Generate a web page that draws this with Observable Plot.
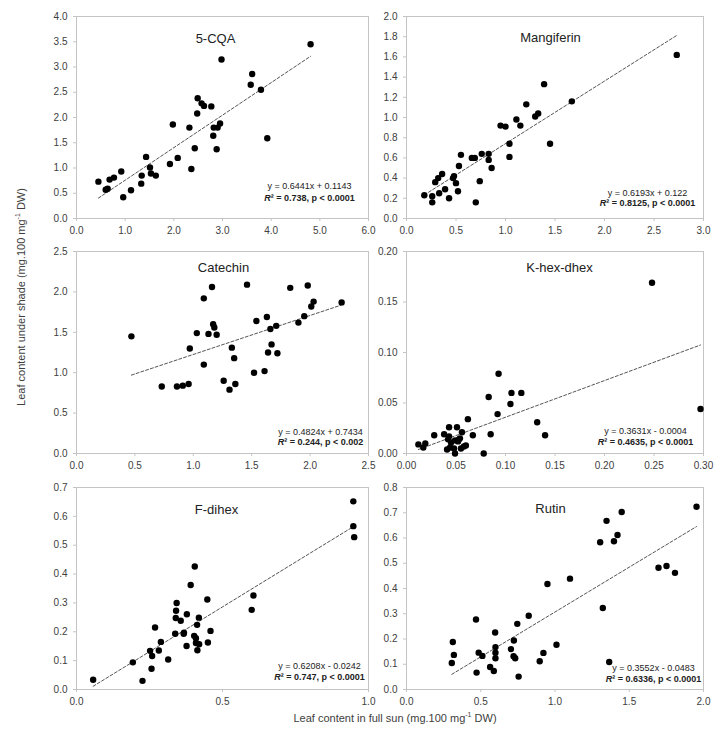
<!DOCTYPE html>
<html><head><meta charset="utf-8">
<script src="https://cdn.jsdelivr.net/npm/d3@7"></script>
<script src="https://cdn.jsdelivr.net/npm/@observablehq/plot@0.6"></script>
<style>
body{margin:0;background:#fff;font-family:"Liberation Sans",Arial,sans-serif;}
#chart{position:relative;width:724px;height:730px;}
.panel{position:absolute;}
.panel svg{overflow:visible;background:transparent;max-width:none;}
.ylab{position:absolute;left:21px;top:297px;transform:translate(-50%,-50%) rotate(-90deg);white-space:nowrap;font-size:11px;color:#404040;}
.xlab{position:absolute;left:395px;top:718px;transform:translate(-50%,-50%);white-space:nowrap;font-size:11px;color:#404040;}
sup{font-size:7px;line-height:0;}
</style></head><body><div id="chart"></div>
<script>
// ---- Data ----
const cqaSun   = [0.45,0.60,0.64,0.68,0.77,0.92,0.96,1.12,1.33,1.34,1.43,1.51,1.53,1.63,1.92,1.98,2.08,2.32,2.36,2.43,2.48,2.49,2.57,2.62,2.77,2.81,2.82,2.88,2.90,2.95,2.98,3.58,3.61,3.79,3.92,4.81];
const cqaShade = [0.73,0.57,0.59,0.77,0.81,0.93,0.42,0.56,0.69,0.85,1.22,1.01,0.89,0.85,1.08,1.86,1.20,1.80,0.98,1.39,2.08,2.38,2.28,2.23,2.22,1.64,1.80,1.37,1.80,1.88,3.15,2.65,2.86,2.55,1.59,3.45];

const mangSun   = [0.18,0.26,0.26,0.29,0.32,0.33,0.36,0.39,0.43,0.47,0.48,0.50,0.52,0.53,0.55,0.66,0.69,0.70,0.74,0.76,0.83,0.83,0.86,0.95,1.00,1.04,1.04,1.11,1.15,1.21,1.30,1.33,1.39,1.45,1.67,2.73];
const mangShade = [0.23,0.22,0.16,0.36,0.40,0.25,0.44,0.29,0.20,0.40,0.42,0.35,0.27,0.52,0.63,0.60,0.60,0.16,0.37,0.64,0.64,0.58,0.50,0.92,0.91,0.74,0.61,0.98,0.92,1.13,1.01,1.04,1.33,0.74,1.16,1.62];

const catSun   = [0.47,0.73,0.86,0.91,0.96,0.97,1.03,1.09,1.09,1.13,1.16,1.17,1.18,1.20,1.26,1.31,1.33,1.35,1.36,1.46,1.52,1.54,1.61,1.63,1.64,1.66,1.67,1.71,1.72,1.83,1.90,1.95,1.98,2.01,2.03,2.27];
const catShade = [1.45,0.83,0.83,0.84,0.86,1.30,1.49,1.10,1.92,1.48,2.06,1.60,1.56,1.47,0.90,0.79,1.31,1.18,0.86,2.09,1.00,1.64,1.02,1.69,1.25,1.54,1.35,1.58,1.24,2.05,1.62,1.70,2.08,1.82,1.88,1.87];

const khexSun   = [0.012,0.017,0.019,0.028,0.038,0.041,0.042,0.043,0.043,0.044,0.045,0.048,0.049,0.049,0.051,0.052,0.053,0.054,0.055,0.056,0.058,0.060,0.062,0.067,0.078,0.083,0.085,0.092,0.093,0.105,0.106,0.116,0.132,0.140,0.248,0.297];
const khexShade = [0.009,0.006,0.010,0.018,0.019,0.004,0.014,0.026,0.017,0.006,0.011,0.005,0.000,0.013,0.026,0.012,0.014,0.015,0.005,0.021,0.007,0.008,0.034,0.018,0.000,0.056,0.019,0.039,0.079,0.049,0.060,0.060,0.031,0.018,0.169,0.044];

const fdiSun   = [0.057,0.193,0.226,0.252,0.257,0.259,0.269,0.282,0.289,0.314,0.338,0.340,0.341,0.343,0.357,0.367,0.368,0.377,0.378,0.391,0.403,0.405,0.409,0.409,0.413,0.414,0.419,0.420,0.448,0.450,0.459,0.600,0.606,0.948,0.948,0.951];
const fdiShade = [0.034,0.094,0.030,0.134,0.072,0.116,0.215,0.135,0.165,0.104,0.193,0.248,0.273,0.300,0.238,0.193,0.197,0.151,0.261,0.362,0.186,0.426,0.178,0.161,0.224,0.136,0.249,0.157,0.312,0.163,0.203,0.276,0.326,0.652,0.566,0.528];

const rutSun   = [0.305,0.312,0.319,0.468,0.472,0.486,0.511,0.563,0.588,0.597,0.599,0.599,0.599,0.703,0.723,0.721,0.732,0.746,0.755,0.823,0.897,0.922,0.949,1.010,1.101,1.304,1.322,1.347,1.365,1.397,1.421,1.449,1.697,1.751,1.808,1.953];
const rutShade = [0.105,0.188,0.137,0.277,0.067,0.146,0.133,0.089,0.073,0.226,0.168,0.146,0.124,0.160,0.194,0.132,0.124,0.260,0.051,0.292,0.112,0.145,0.418,0.177,0.439,0.583,0.323,0.668,0.109,0.587,0.612,0.703,0.482,0.489,0.462,0.724];

const titles = ["5-CQA","Mangiferin","Catechin","K-hex-dhex","F-dihex","Rutin"];
const slopes = [0.6441,0.6193,0.4824,0.3631,0.6208,0.3552];
const intercepts = [0.1143,0.122,0.7434,-0.0004,-0.0242,-0.0483];
const eqLabels = ["y = 0.6441x + 0.1143","y = 0.6193x + 0.122","y = 0.4824x + 0.7434","y = 0.3631x - 0.0004","y = 0.6208x - 0.0242","y = 0.3552x - 0.0483"];
const r2Labels = ["R² = 0.738, p < 0.0001","R² = 0.8125, p < 0.0001","R² = 0.244, p < 0.002","R² = 0.4635, p < 0.0001","R² = 0.747, p < 0.0001","R² = 0.6336, p < 0.0001"];
const xTicks = [[0,1,2,3,4,5,6],[0,0.5,1,1.5,2,2.5,3],[0,0.5,1,1.5,2,2.5],[0,0.05,0.1,0.15,0.2,0.25,0.3],[0,0.5,1],[0,0.5,1,1.5,2]];
const yTicks = [[0,0.5,1,1.5,2,2.5,3,3.5,4],[0,0.2,0.4,0.6,0.8,1,1.2,1.4,1.6,1.8,2],[0,0.5,1,1.5,2,2.5],[0,0.05,0.1,0.15,0.2],[0,0.1,0.2,0.3,0.4,0.5,0.6,0.7],[0,0.1,0.2,0.3,0.4,0.5,0.6,0.7,0.8]];
const xFormats = [".1f",".1f",".1f",".2f",".1f",".1f"];
const yFormats = [".1f",".1f",".1f",".2f",".1f",".1f"];

const sunSets = [cqaSun,mangSun,catSun,khexSun,fdiSun,rutSun];
const shadeSets = [cqaShade,mangShade,catShade,khexShade,fdiShade,rutShade];

// ---- Layout ----
const layout = [
  {left:0,  top:0,   col:0, tdx:139, tdy:17, edx:59, e1:30, e2:18},
  {left:362,top:0,   col:1, tdx:144, tdy:16, edx:56, e1:23, e2:13},
  {left:0,  top:235, col:0, tdx:147, tdy:11, edx:48, e1:19, e2:9},
  {left:362,top:235, col:1, tdx:153, tdy:11, edx:58, e1:20, e2:9},
  {left:0,  top:471, col:0, tdx:140, tdy:17, edx:49, e1:21, e2:10},
  {left:362,top:471, col:1, tdx:144, tdy:16, edx:50, e1:19, e2:8}
];

const chart = document.getElementById("chart");
const font = "'Liberation Sans', Arial, sans-serif";

titles.forEach((title, i) => {
  const L = layout[i];
  const pts = sunSets[i].map((x, j) => ({x, y: shadeSets[i][j]}));
  const ext = d3.extent(sunSets[i]);
  const trend = ext.map(x => ({x, y: slopes[i] * x + intercepts[i]}));
  const xt = xTicks[i], yt = yTicks[i];
  const plot = Plot.plot({
    width: L.col === 0 ? 380 : 362,
    height: 240,
    marginLeft: L.col === 0 ? 76 : 44,
    marginRight: L.col === 0 ? 12 : 21,
    marginTop: 16,
    marginBottom: 22,
    style: {fontFamily: font, fontSize: "10px", overflow: "visible", background: "transparent"},
    x: {domain: [xt[0], xt[xt.length - 1]]},
    y: {domain: [yt[0], yt[yt.length - 1]]},
    marks: [
      Plot.frame({stroke: "#c4c4c4"}),
      Plot.axisX({ticks: xt, tickFormat: d3.format(xFormats[i]), tickSize: 3, tickPadding: 5, stroke: "#c4c4c4", fill: "#404040", label: null}),
      Plot.axisY({ticks: yt, tickFormat: d3.format(yFormats[i]), tickSize: 3, tickPadding: 6, stroke: "#c4c4c4", fill: "#404040", label: null}),
      Plot.line(trend, {x: "x", y: "y", stroke: "#555", strokeWidth: 1, strokeDasharray: "3,2"}),
      Plot.dot(pts, {x: "x", y: "y", r: 3.2, fill: "#000", stroke: "none"}),
      Plot.text([title], {text: d => d, frameAnchor: "top-left", dx: L.tdx, dy: L.tdy, textAnchor: "middle", fontSize: 13, fill: "#222"}),
      Plot.text([eqLabels[i]], {text: d => d, frameAnchor: "bottom-right", dx: -L.edx, dy: -L.e1, textAnchor: "middle", fontSize: 9, fill: "#222"}),
      Plot.text([r2Labels[i]], {text: d => d, frameAnchor: "bottom-right", dx: -L.edx, dy: -L.e2, textAnchor: "middle", fontSize: 9, fontWeight: "bold", fill: "#222"})
    ]
  });
  d3.select(plot).selectAll("text").filter(function() { return this.textContent === r2Labels[i]; })
    .each(function() {
      const t = d3.select(this);
      const rest = r2Labels[i].slice(1);
      t.text(null);
      t.append("tspan").attr("font-style", "italic").text("R");
      t.append("tspan").text(rest);
    });
  const div = document.createElement("div");
  div.className = "panel";
  div.style.left = L.left + "px";
  div.style.top = L.top + "px";
  div.appendChild(plot);
  chart.appendChild(div);
});

const yl = document.createElement("div");
yl.className = "ylab";
yl.innerHTML = "Leaf content under shade (mg.100 mg<sup>-1</sup> DW)";
chart.appendChild(yl);
const xl = document.createElement("div");
xl.className = "xlab";
xl.innerHTML = "Leaf content in full sun (mg.100 mg<sup>-1</sup> DW)";
chart.appendChild(xl);
</script></body></html>
